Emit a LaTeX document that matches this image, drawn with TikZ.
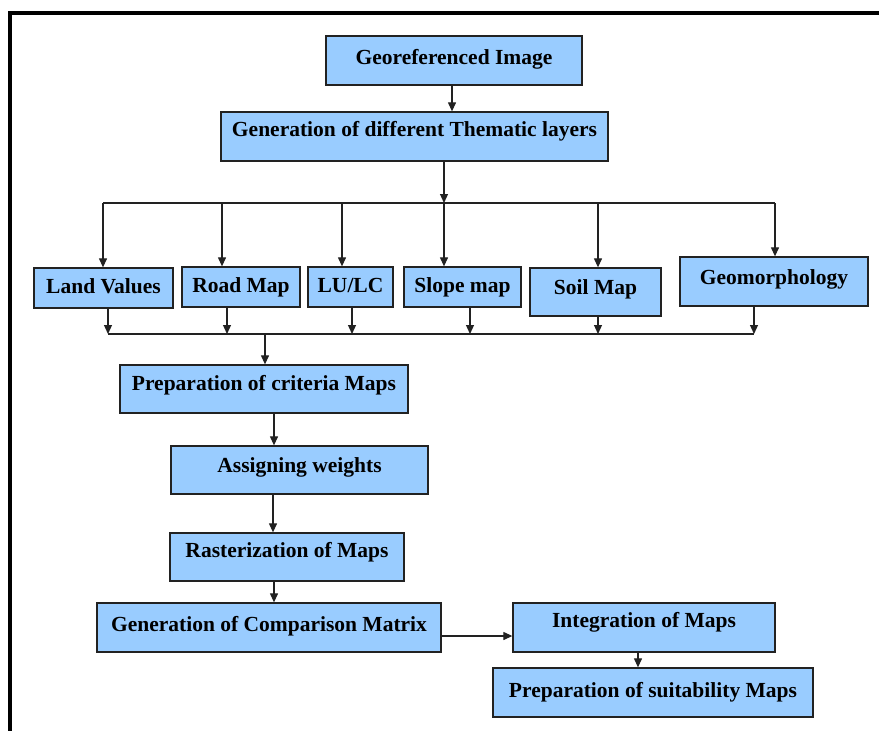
\documentclass[tikz,border=0pt]{standalone}
\usepackage{fontspec}
\setmainfont{Liberation Serif}
\usetikzlibrary{arrows.meta}
\definecolor{boxblue}{HTML}{99CCFF}
\definecolor{edge}{HTML}{222222}
\begin{document}
\begin{tikzpicture}[x=1pt,y=-1pt,
  box/.style={draw=edge, line width=1.3pt, fill=boxblue, inner sep=0pt,
    font=\fontsize{21.5}{24}\selectfont\bfseries, text height=15pt, text depth=4pt},
  arr/.style={draw=edge, line width=1.2pt, -{Triangle[length=9pt,width=8pt]}},
  ln/.style={draw=edge, line width=1.2pt},
  frame/.style={draw=black, line width=4pt}]
\useasboundingbox (0,0) rectangle (879,731);
% outer frame
\coordinate (fa) at (10,731);
\coordinate (fb) at (10,13);
\coordinate (fc) at (879,13);
\draw[frame] (fa) -- (fb) -- (fc);

% boxes
\node[box, minimum width=256, minimum height=49, text depth=6.8pt] (geo) at (454,60.5) {Georeferenced Image};
\node[box, minimum width=387, minimum height=49, text depth=15.8pt] (gen) at (414.5,136.5) {Generation of different Thematic layers};
\node[box, minimum width=139, minimum height=40] (land) at (103.5,288) {Land Values};
\node[box, minimum width=118, minimum height=40] (road) at (241,287) {Road Map};
\node[box, minimum width=85, minimum height=40] (lulc) at (350.5,287) {LU/LC};
\node[box, minimum width=117, minimum height=40] (slope) at (462.5,287) {Slope map};
\node[box, minimum width=131, minimum height=48, text depth=10.8pt] (soil) at (595.5,292) {Soil Map};
\node[box, minimum width=188, minimum height=49, text depth=9.8pt] (geom) at (774,281.5) {Geomorphology};
\node[box, minimum width=288, minimum height=48, text depth=12.8pt] (crit) at (264,389) {Preparation of criteria Maps};
\node[box, minimum width=257, minimum height=48, text depth=10.8pt] (wts) at (299.5,470) {Assigning weights};
\node[box, minimum width=234, minimum height=48, text depth=14.8pt] (rast) at (287,557) {Rasterization of Maps};
\node[box, minimum width=344, minimum height=49, text depth=7.8pt] (comp) at (269,627.5) {Generation of Comparison Matrix};
\node[box, minimum width=262, minimum height=49, text depth=15.8pt] (integ) at (644,627.5) {Integration of Maps};
\node[box, minimum width=320, minimum height=49, text depth=5.8pt] (suit) at (653,692.5) {Preparation of suitability Maps};

% top arrow
\draw[arr] (geo.south -| 452,0) -- (gen.north -| 452,0);

% upper distribution bus
\coordinate (ub) at (444,203);
\coordinate (ubl) at (103,203);
\coordinate (ubr) at (775,203);
\draw[arr] (gen.south -| ub) -- (ub);
\draw[ln] (ubl) -- (ubr);
\draw[arr] (ubl) -- (ubl |- land.north);
\draw[arr] (222,203) -- (road.north -| 222,0);
\draw[arr] (342,203) -- (lulc.north -| 342,0);
\draw[arr] (ub) -- (ub |- slope.north);
\draw[arr] (598,203) -- (soil.north -| 598,0);
\draw[arr] (ubr) -- (ubr |- geom.north);

% lower collecting bus
\coordinate (lbl) at (108,334);
\coordinate (lbr) at (754,334);
\coordinate (lbm) at (265,334);
\draw[ln] (lbl) -- (lbr);
\draw[arr] (land.south -| lbl) -- (lbl);
\draw[arr] (road.south -| 227,0) -- (227,334);
\draw[arr] (lulc.south -| 352,0) -- (352,334);
\draw[arr] (slope.south -| 470,0) -- (470,334);
\draw[arr] (soil.south -| 598,0) -- (598,334);
\draw[arr] (geom.south -| lbr) -- (lbr);
\draw[arr] (lbm) -- (lbm |- crit.north);

% main chain
\draw[arr] (crit.south -| 274,0) -- (wts.north -| 274,0);
\draw[arr] (wts.south -| 273,0) -- (rast.north -| 273,0);
\draw[arr] (rast.south -| 274,0) -- (comp.north -| 274,0);
\draw[arr] (comp.east |- 0,636) -- (integ.west |- 0,636);
\draw[arr] (integ.south -| 638,0) -- (suit.north -| 638,0);
\end{tikzpicture}
\end{document}
